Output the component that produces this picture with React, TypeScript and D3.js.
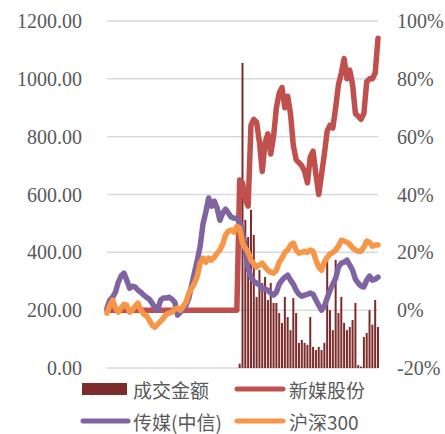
import * as d3 from 'd3';
import React from 'react';

// left axis (成交金额) and right axis (涨跌幅 %)
const leftTicks = [0, 200, 400, 600, 800, 1000, 1200];
const rightTicks = [-20, 0, 20, 40, 60, 80, 100];

const seriesNames = ['成交金额', '新媒股份', '传媒(中信)', '沪深300'];

// 新媒股份 cumulative return (%) - flat before listing
const xinmei = [
  0, 0, 0, 0, 0, 0, 0, 0, 0, 0,
  0, 0, 0, 0, 0, 0, 0, 0, 0, 0,
  0, 0, 0, 0, 0, 0, 0, 0, 0, 0,
  0, 0, 0, 0, 0, 0, 0, 0, 0, 0,
  0, 0, 0, 0, 0, 0, 0,
  45, 44, 38, 36, 64, 66, 65, 58, 48, 58,
  61, 54, 60, 70, 75, 77, 70, 74, 68, 57,
  52, 51, 50, 48, 44, 53, 55, 47, 40, 47,
  54, 62, 64, 63, 70, 78, 82, 87, 80, 83,
  78, 68, 67, 66, 68, 79, 80, 80, 82, 94,
];

// 传媒(中信) cumulative return (%)
const media = [
  0.7, 3.5, 4.5, 6.2, 9.7, 11.8, 12.8, 10.4, 7.6, 8.3,
  8, 6.9, 6.2, 5.2, 4.5, 3.8, 2.4, 0.7, 0.3, 3.5,
  4.2, 4.2, 4.5, 3.8, 2.8, -1.7, -0.7, 0.7, 1.7, 4.2,
  8.7, 13.1, 17.3, 22.1, 29.8, 33.9, 38.8, 36, 37.7, 35.3,
  31.1, 33.6, 34.9, 33.6, 32.2, 31.8, 31.8, 30.4, 27, 20.8,
  14.5, 11.4, 10, 9.3, 8.7, 7.6, 7.3, 6.9, 5.9, 5.2,
  6.2, 9, 10.4, 11.4, 12.1, 10.4, 9, 6.9, 5.5, 4.8,
  5.2, 5.5, 5.9, 5.5, 3.5, 1.7, 0, 1.4, 4.2, 6.9,
  9, 11, 14.9, 16.3, 16.6, 17.3, 15.6, 13.8, 10.7, 9.3,
  8.3, 8, 10.4, 11.8, 10.4, 10.7, 11.4,
];

// 沪深300 cumulative return (%)
const hs300 = [
  -1, 1.7, 3.5, 0.7, -0.7, 0.7, 2, 1.7, -0.7, 0,
  1.4, 2.4, 0, -1.4, -2, -3.5, -5.2, -5.9, -4.8, -3.8,
  -2.8, -1.4, -1, -0.7, 0.3, 0.7, 0, 1.4, 2.8, 5.9,
  7.6, 9.3, 11.8, 16.3, 18, 16.6, 18, 17.3, 18.3, 19.7,
  20.8, 22.8, 26, 27.3, 27.7, 27, 29, 28.4, 23.2, 21.5,
  20, 17.3, 16, 14.9, 15.6, 16.3, 14.9, 13.8, 13.1, 12.8,
  13.8, 16.6, 18, 20, 20.8, 22.5, 23.2, 20.8, 19.7, 20,
  20.4, 20, 20.8, 20.4, 17.3, 14.9, 13.8, 16.6, 18.3, 19.4,
  20, 20.8, 22.1, 24.2, 23.9, 23.5, 22.8, 21.5, 20.8, 20.4,
  20.4, 21.8, 23.9, 23.5, 22.1, 22.5, 22.5,
];

// 成交金额, starting from the listing day (day index 47)
const listingDay = 47;
const turnover = [
  15, 1055, 512, 453, 547, 460, 246, 339, 294, 315,
  235, 294, 225, 225, 190, 156, 246, 176, 131, 242,
  190, 87, 97, 87, 80, 176, 73, 62, 73, 62,
  87, 391, 200, 131, 374, 190, 246, 156, 131, 142,
  166, 225, 10, 5, 107, 121, 200, 150, 235, 142,
];

const W = 445, H = 434;
const plot = { left: 107, right: 378, top: 21, bottom: 368 };

const colors = ['#7B2C2B', '#C0504D', '#8064A2', '#F79646'];
const numFont = '"Liberation Serif", "Times New Roman", serif';
const cjkFont = '"Noto Sans CJK SC", "Noto Sans", sans-serif';

export default function App() {
  const n = hs300.length;
  const x = d3.scaleLinear().domain([0, n - 1]).range([plot.left, plot.right]);
  const yL = d3.scaleLinear().domain([0, 1200]).range([plot.bottom, plot.top]);
  const yR = d3.scaleLinear().domain([-20, 100]).range([plot.bottom, plot.top]);

  const line = d3.line<number>()
    .x((_, i) => x(i))
    .y((d) => yR(d));

  const lineSeries = [xinmei, media, hs300];
  const barW = 2;
  const row1 = 389, row2 = 421;

  return (
    <svg width={W} height={H} style={{ position: 'absolute', left: 0, top: 0 }}>
      <rect width={W} height={H} fill="#fff" />
      {/* gridlines */}
      {leftTicks.map((t) => (
        <line key={t} x1={plot.left} x2={plot.right} y1={yL(t)} y2={yL(t)}
          stroke="#D9D9D9" strokeWidth={1.5} />
      ))}
      {/* left axis labels */}
      {leftTicks.map((t) => (
        <text key={'l' + t} x={82} y={yL(t)} textAnchor="end" dominantBaseline="central"
          fontFamily={numFont} fontSize={20} fill="#595959">{d3.format('.2f')(t)}</text>
      ))}
      {/* right axis labels */}
      {rightTicks.map((t) => (
        <text key={'r' + t} x={397} y={yR(t)} textAnchor="start" dominantBaseline="central"
          fontFamily={numFont} fontSize={20} fill="#595959">{t + '%'}</text>
      ))}
      {/* bars */}
      {turnover.map((v, i) => (
        <rect key={'b' + i} x={x(listingDay + i) - barW / 2} y={yL(v)}
          width={barW} height={yL(0) - yL(v)} fill={colors[0]} />
      ))}
      {/* lines */}
      {lineSeries.map((s, k) => (
        <path key={'s' + k} d={line(s) || ''} fill="none" stroke={colors[k + 1]}
          strokeWidth={5.5} strokeLinejoin="round" strokeLinecap="round" />
      ))}
      {/* legend */}
      <g fontFamily={cjkFont} fontSize={19} fill="#595959">
        <rect x={82} y={row1 - 6} width={45} height={12} fill={colors[0]} />
        <text x={133} y={row1} dominantBaseline="central">{seriesNames[0]}</text>
        <line x1={237} x2={283} y1={row1} y2={row1} stroke={colors[1]} strokeWidth={5} strokeLinecap="round" />
        <text x={289} y={row1} dominantBaseline="central">{seriesNames[1]}</text>
        <line x1={83} x2={128} y1={row2} y2={row2} stroke={colors[2]} strokeWidth={5} strokeLinecap="round" />
        <text x={133} y={row2} dominantBaseline="central">{seriesNames[2]}</text>
        <line x1={237} x2={283} y1={row2} y2={row2} stroke={colors[3]} strokeWidth={5} strokeLinecap="round" />
        <text x={289} y={row2} dominantBaseline="central">{seriesNames[3]}</text>
      </g>
    </svg>
  );
}
